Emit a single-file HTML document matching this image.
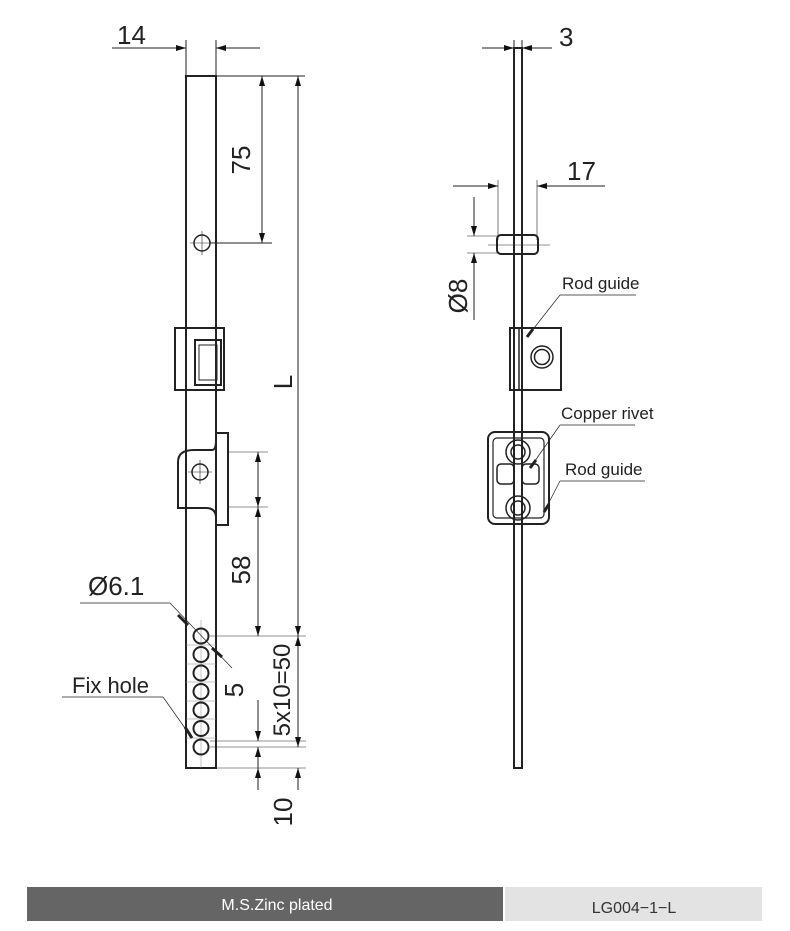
<!DOCTYPE html>
<html><head><meta charset="utf-8"><style>
html,body{margin:0;padding:0;background:#fff;}
svg{display:block;}
text{font-family:"Liberation Sans",Arial,sans-serif;fill:#222;}
</style></head><body>
<svg width="790" height="931" viewBox="0 0 790 931" xmlns="http://www.w3.org/2000/svg">
<defs>
<marker id="a" viewBox="0 0 10 10" refX="10" refY="5" markerWidth="10" markerHeight="10" orient="auto-start-reverse" markerUnits="userSpaceOnUse"><path d="M0,2 L10,5 L0,8 z" fill="#111"/></marker>
</defs>
<g stroke="#222" fill="none" stroke-width="1">
<rect x="186" y="76" width="30" height="692" stroke-width="2"/>
<line x1="186" y1="40" x2="186" y2="76"/><line x1="216" y1="40" x2="216" y2="76"/>
<line x1="112" y1="48" x2="186" y2="48" marker-end="url(#a)"/><line x1="260" y1="48" x2="216" y2="48" marker-end="url(#a)"/>
<line x1="216" y1="76" x2="305" y2="76"/><line x1="210" y1="243" x2="272" y2="243"/>
<line x1="262" y1="76" x2="262" y2="243" marker-start="url(#a)" marker-end="url(#a)"/>
<circle cx="202" cy="243" r="8" stroke-width="1.5"/>
<line x1="190" y1="243" x2="214" y2="243" stroke-width="0.6"/><line x1="202" y1="231" x2="202" y2="255" stroke-width="0.6"/>
<line x1="298" y1="76" x2="298" y2="636" marker-start="url(#a)" marker-end="url(#a)"/>
<rect x="175" y="328" width="49" height="62" stroke-width="2"/>
<rect x="195" y="340" width="26" height="45" stroke-width="2"/>
<rect x="199" y="345" width="18" height="35" stroke-width="1"/>
<path d="M216,433 H228 V525 H216 V518 Q216,508 206,508 H178 V462 Q178,450 194,450 H212 Q216,450 216,440 Z" stroke-width="2"/>
<circle cx="200" cy="472" r="8" stroke-width="1.5"/>
<line x1="188" y1="472" x2="212" y2="472" stroke-width="0.6"/><line x1="200" y1="460" x2="200" y2="484" stroke-width="0.6"/>
<line x1="228" y1="452" x2="268" y2="452" stroke-width="0.6"/><line x1="228" y1="507" x2="268" y2="507" stroke-width="0.6"/>
<line x1="258" y1="452" x2="258" y2="480" marker-start="url(#a)"/><line x1="258" y1="480" x2="258" y2="507" marker-end="url(#a)"/>
<line x1="258" y1="507" x2="258" y2="636" marker-start="url(#a)" marker-end="url(#a)"/>
<g stroke-width="0.5" stroke="#888">
<line x1="186" y1="645" x2="216" y2="645"/><line x1="186" y1="664" x2="216" y2="664"/><line x1="186" y1="682" x2="216" y2="682"/><line x1="186" y1="701" x2="216" y2="701"/><line x1="186" y1="719" x2="216" y2="719"/><line x1="186" y1="738" x2="216" y2="738"/>
<line x1="201" y1="620" x2="201" y2="768"/>
</g>
<g stroke-width="2">
<circle cx="201" cy="636" r="7.5"/><circle cx="201" cy="654.5" r="7.5"/><circle cx="201" cy="673" r="7.5"/><circle cx="201" cy="691.5" r="7.5"/><circle cx="201" cy="710" r="7.5"/><circle cx="201" cy="728.5" r="7.5"/><circle cx="201" cy="747" r="7.5"/>
</g>
<line x1="210" y1="636" x2="306" y2="636" stroke-width="0.6"/>
<line x1="210" y1="741" x2="306" y2="741" stroke-width="0.6"/>
<line x1="210" y1="747" x2="306" y2="747" stroke-width="0.6"/>
<line x1="216" y1="768" x2="306" y2="768" stroke-width="0.6"/>
<line x1="298" y1="636" x2="298" y2="747" marker-start="url(#a)" marker-end="url(#a)"/>
<line x1="258" y1="700" x2="258" y2="741" marker-end="url(#a)"/>
<line x1="258" y1="790" x2="258" y2="747" marker-end="url(#a)"/>
<line x1="298" y1="790" x2="298" y2="768" marker-end="url(#a)"/>
<line x1="258" y1="768" x2="258" y2="790" marker-start="url(#a)"/>
<line x1="80" y1="603" x2="170" y2="603" stroke-width="0.7"/><line x1="170" y1="603" x2="232" y2="668" stroke-width="0.7"/>
<line x1="178" y1="615" x2="188" y2="625" stroke-width="3"/><line x1="212" y1="648" x2="222" y2="657" stroke-width="3"/>
<line x1="62" y1="697" x2="163" y2="697" stroke-width="0.7"/><line x1="163" y1="697" x2="192" y2="738" stroke-width="0.7"/>
<line x1="185" y1="727" x2="192" y2="738" stroke-width="3"/>

<rect x="514" y="48" width="8" height="720" stroke-width="2"/>
<line x1="514" y1="40" x2="514" y2="60"/><line x1="522" y1="40" x2="522" y2="60"/>
<line x1="482" y1="48" x2="514" y2="48" marker-end="url(#a)"/><line x1="552" y1="48" x2="522" y2="48" marker-end="url(#a)"/>
<line x1="498" y1="180" x2="498" y2="240" stroke-width="0.6"/><line x1="537" y1="180" x2="537" y2="240" stroke-width="0.6"/>
<line x1="453" y1="186" x2="498" y2="186" marker-end="url(#a)"/><line x1="605" y1="186" x2="537" y2="186" marker-end="url(#a)"/>
<rect x="497" y="235" width="41" height="19" rx="4" stroke-width="2"/>
<line x1="488" y1="245" x2="550" y2="245" stroke-width="0.6"/>
<line x1="467" y1="236" x2="500" y2="236" stroke-width="0.6"/><line x1="467" y1="253" x2="500" y2="253" stroke-width="0.6"/>
<line x1="474" y1="197" x2="474" y2="236" marker-end="url(#a)"/><line x1="474" y1="320" x2="474" y2="253" marker-end="url(#a)"/>
<rect x="510" y="328" width="51" height="62" stroke-width="2"/>
<line x1="519" y1="328" x2="519" y2="390" stroke-width="1.5"/>
<circle cx="542" cy="357" r="11" stroke-width="1.5"/><circle cx="542" cy="357" r="7.5" stroke-width="1.5"/>
<line x1="560" y1="295" x2="636" y2="295" stroke-width="0.7"/><line x1="560" y1="295" x2="527" y2="337" stroke-width="0.7"/>
<line x1="527" y1="337" x2="533" y2="329" stroke-width="3"/>
<rect x="488" y="432" width="61" height="92" rx="7" stroke-width="2"/>
<rect x="493" y="438" width="51" height="80" rx="4" stroke-width="1.2"/>
<circle cx="518" cy="452" r="12" stroke-width="1.5"/><circle cx="518" cy="452" r="7" stroke-width="1.5"/>
<circle cx="518" cy="508" r="12" stroke-width="1.5"/><circle cx="518" cy="508" r="7" stroke-width="1.5"/>
<rect x="497" y="464" width="17" height="20" rx="4" stroke-width="1.5"/>
<rect x="522" y="464" width="17" height="20" rx="4" stroke-width="1.5"/>
<line x1="560" y1="425" x2="635" y2="425" stroke-width="0.7"/><line x1="560" y1="425" x2="530" y2="468" stroke-width="0.7"/>
<line x1="530" y1="468" x2="536" y2="460" stroke-width="3"/>
<line x1="560" y1="481" x2="645" y2="481" stroke-width="0.7"/><line x1="560" y1="481" x2="544" y2="512" stroke-width="0.7"/>
<line x1="544" y1="512" x2="549" y2="504" stroke-width="3"/>
</g>
<g font-size="26">
<text x="117" y="44">14</text>
<text x="559" y="46">3</text>
<text x="567" y="180">17</text>
<text transform="translate(250,160) rotate(-90)" text-anchor="middle">75</text>
<text transform="translate(292,382) rotate(-90)" text-anchor="middle">L</text>
<text transform="translate(250,570) rotate(-90)" text-anchor="middle">58</text>
<text transform="translate(243,690) rotate(-90)" text-anchor="middle">5</text>
<text transform="translate(290,690) rotate(-90)" text-anchor="middle" font-size="24">5x10=50</text>
<text transform="translate(292,812) rotate(-90)" text-anchor="middle">10</text>
<text transform="translate(467,296) rotate(-90)" text-anchor="middle">Ø8</text>
<text x="88" y="595">Ø6.1</text>
<text x="72" y="693" font-size="22">Fix hole</text>
</g>
<g font-size="17">
<text x="562" y="289">Rod guide</text>
<text x="561" y="419">Copper rivet</text>
<text x="565" y="475">Rod guide</text>
</g>
<rect x="27" y="887" width="476" height="34" fill="#656565"/>
<rect x="505" y="887" width="257" height="34" fill="#e3e3e3"/>
<text x="277" y="910" text-anchor="middle" font-size="16" style="fill:#fff">M.S.Zinc plated</text>
<text x="634" y="913" text-anchor="middle" font-size="16" style="fill:#333">LG004−1−L</text>
</svg>
</body></html>
